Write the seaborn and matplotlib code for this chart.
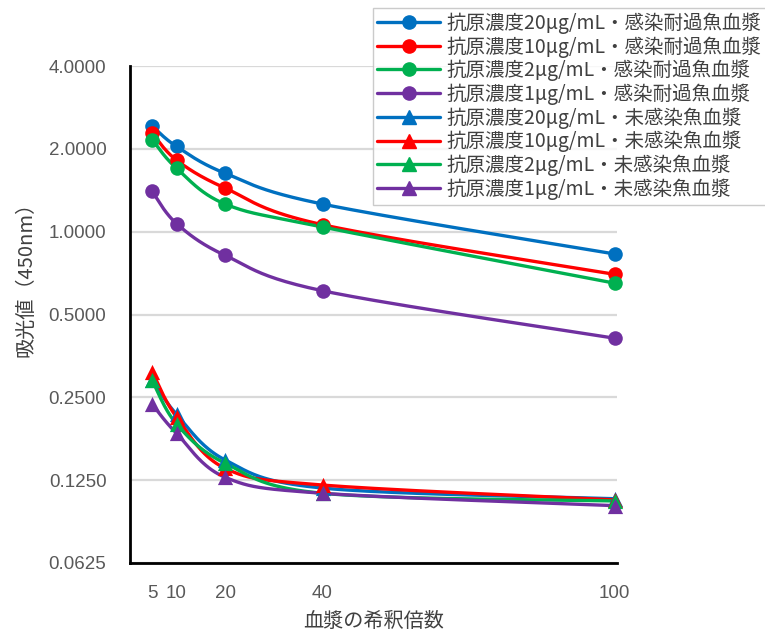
import numpy as np
import pandas as pd
import matplotlib
matplotlib.use("Agg")
import matplotlib.pyplot as plt
from matplotlib.lines import Line2D
from matplotlib.ticker import FormatStrFormatter, NullLocator
import seaborn as sns

# Dilution factors of the plasma (x axis)
dilution = [5, 10, 20, 40, 100]

# Absorbance (450 nm), plasma from fish that survived infection
surv_20 = [2.42, 2.04, 1.63, 1.26, 0.83]
surv_10 = [2.28, 1.82, 1.44, 1.06, 0.70]
surv_2 = [2.16, 1.70, 1.26, 1.04, 0.65]
surv_1 = [1.40, 1.07, 0.82, 0.61, 0.41]

# Absorbance (450 nm), plasma from uninfected fish
naive_20 = [0.290, 0.217, 0.148, 0.117, 0.107]
naive_10 = [0.310, 0.212, 0.138, 0.120, 0.106]
naive_2 = [0.288, 0.200, 0.144, 0.112, 0.105]
naive_1 = [0.236, 0.185, 0.128, 0.112, 0.101]

series_labels = [
    "抗原濃度20μg/mL・感染耐過魚血漿",
    "抗原濃度10μg/mL・感染耐過魚血漿",
    "抗原濃度2μg/mL・感染耐過魚血漿",
    "抗原濃度1μg/mL・感染耐過魚血漿",
    "抗原濃度20μg/mL・未感染魚血漿",
    "抗原濃度10μg/mL・未感染魚血漿",
    "抗原濃度2μg/mL・未感染魚血漿",
    "抗原濃度1μg/mL・未感染魚血漿",
]
series_values = [surv_20, surv_10, surv_2, surv_1,
                 naive_20, naive_10, naive_2, naive_1]

y_ticks = [0.0625, 0.125, 0.25, 0.5, 1.0, 2.0, 4.0]

colors = ["#0070C0", "#FF0000", "#00B050", "#7030A0"] * 2
markers = ["o"] * 4 + ["^"] * 4


def smooth_curve(xs, ys, n=40):
    """Bezier smoothing through the points (x linear, y on log2 scale)."""
    P = np.column_stack([np.asarray(xs, float), np.log2(np.asarray(ys, float))])
    t = np.linspace(0, 1, n)[:, None]
    parts = []
    for i in range(len(P) - 1):
        p0 = P[i - 1] if i > 0 else P[i]
        p1, p2 = P[i], P[i + 1]
        p3 = P[i + 2] if i + 2 < len(P) else P[i + 1]
        c1 = p1 + (p2 - p0) / 6.0
        c2 = p2 - (p3 - p1) / 6.0
        seg = ((1 - t) ** 3) * p1 + 3 * ((1 - t) ** 2) * t * c1 \
            + 3 * (1 - t) * (t ** 2) * c2 + (t ** 3) * p2
        parts.append(seg if i == 0 else seg[1:])
    pts = np.vstack(parts)
    return pts[:, 0], 2 ** pts[:, 1]


sns.set_theme(style="white")
plt.rcParams["font.family"] = ["Noto Sans CJK JP", "DejaVu Sans"]
plt.rcParams["axes.unicode_minus"] = False

fig = plt.figure(figsize=(7.65, 6.33), dpi=100)
ax = fig.add_axes([0.170, 0.1106, 0.6365, 0.7851])

for label, vals, col, mk in zip(series_labels, series_values, colors, markers):
    cx, cy = smooth_curve(dilution, vals)
    curve = pd.DataFrame({"x": cx, "y": cy})
    sns.lineplot(data=curve, x="x", y="y", sort=False, estimator=None,
                 color=col, lw=2.4, ax=ax, legend=False, zorder=3)
    pts = pd.DataFrame({"x": dilution, "y": vals})
    sns.scatterplot(data=pts, x="x", y="y", color=col, marker=mk,
                    s=110 if mk == "o" else 120, linewidth=0,
                    ax=ax, legend=False, zorder=4, clip_on=False)

ax.set_yscale("log", base=2)
ax.set_ylim(0.0625, 4.0)
ax.set_xlim(0.45, 100.5)
ax.set_yticks(y_ticks)
ax.yaxis.set_major_formatter(FormatStrFormatter("%.4f"))
ax.yaxis.set_minor_locator(NullLocator())
ax.set_xticks(dilution)
ax.set_xticklabels([str(d) for d in dilution])

ax.yaxis.grid(True, color="#D9D9D9", lw=1.6, zorder=0)
ax.xaxis.grid(False)
ax.set_axisbelow(True)

for side in ["top", "right"]:
    ax.spines[side].set_visible(False)
for side in ["left", "bottom"]:
    ax.spines[side].set_color("black")
    ax.spines[side].set_linewidth(2.0)

ax.tick_params(axis="y", length=0, labelcolor="#595959", pad=17)
ax.tick_params(axis="x", length=6, width=2, color="black", direction="out",
               labelcolor="#595959", pad=10)
for lab in ax.get_xticklabels() + ax.get_yticklabels():
    lab.set_fontfamily(["Liberation Sans", "DejaVu Sans"])
    lab.set_fontsize(13.5)

ax.set_xlabel("血漿の希釈倍数", fontsize=14.5, color="#404040", labelpad=6)
ax.set_ylabel("吸光値（450nm）", fontsize=14.5, color="#404040")
ax.yaxis.set_label_coords(-0.193, 0.58)

handles = [Line2D([], [], color=c, lw=2.4, marker=m, markersize=9.5)
           for c, m in zip(colors, markers)]
leg = fig.legend(handles, series_labels, loc="upper left",
                 bbox_to_anchor=(0.487, 0.988), frameon=True, fancybox=False,
                 fontsize=14, handlelength=3.2, handletextpad=0.35,
                 labelspacing=0.12, borderpad=0.25, borderaxespad=0)
leg.get_frame().set_edgecolor("#BFBFBF")
leg.get_frame().set_linewidth(1.0)
for txt in leg.get_texts():
    txt.set_color("#404040")

fig.savefig("out.png", dpi=100)
